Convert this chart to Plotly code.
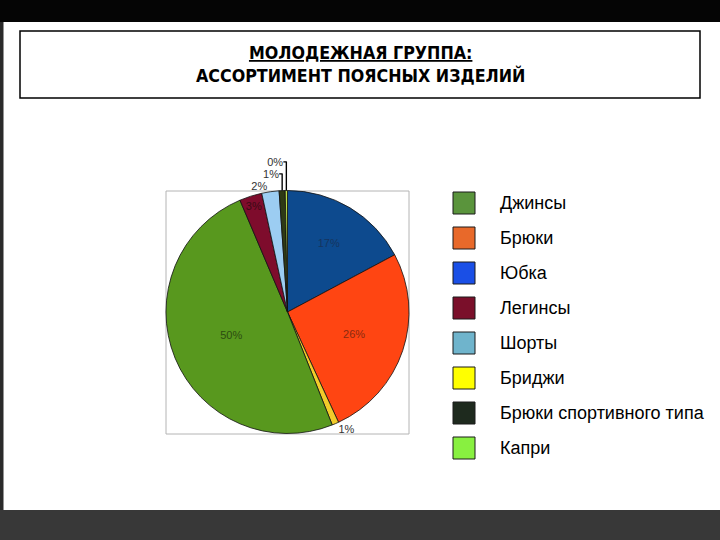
import plotly.graph_objects as go

# данные диаграммы (порядок секторов по часовой стрелке от 12 часов)
slice_labels = ['Юбка', 'Брюки', 'Бриджи', 'Джинсы', 'Легинсы', 'Шорты',
                'Брюки спортивного типа', 'Капри']
slice_values = [17.2, 25.9, 0.9, 49.6, 3.0, 2.3, 0.8, 0.3]
slice_colors = ['#0d4a8e', '#ff4512', '#f2cc2a', '#58981e', '#7e0c2c', '#9ccdf2',
                '#2e3a14', '#b8e04a']
text_colors = ['#15355f', '#8a2a10', '#333333', '#2c4c10', '#3a0a14', '#333333',
               '#333333', '#333333']
text_pos = ['inside', 'inside', 'outside', 'inside', 'inside', 'outside',
            'outside', 'outside']

# легенда (как на слайде)
legend_labels = ['Джинсы', 'Брюки', 'Юбка', 'Легинсы', 'Шорты', 'Бриджи',
                 'Брюки спортивного типа', 'Капри']
legend_colors = ['#5a943c', '#e8692a', '#1a4fe6', '#7a0f2a', '#6fb4cc', '#ffff00',
                 '#1e2a1e', '#88f040']

W, H = 720, 540


def px(x):
    return x / W


def py(y):
    return 1 - y / H


fig = go.Figure()

fig.add_trace(go.Pie(
    labels=slice_labels,
    values=slice_values,
    sort=False,
    direction='clockwise',
    rotation=0,
    marker=dict(colors=slice_colors, line=dict(color='#111111', width=0.8)),
    texttemplate='%{percent:.0%}',
    textposition=text_pos,
    insidetextorientation='horizontal',
    textfont=dict(family='Liberation Sans, Arial', size=11, color=text_colors),
    domain=dict(x=[px(166), px(409)], y=[py(434), py(190)]),
    showlegend=False,
    hoverinfo='label+percent',
))

shapes = [
    # тёмная рамка слайда
    dict(type='rect', xref='paper', yref='paper', x0=0, x1=1, y0=py(22), y1=1,
         fillcolor='#050505', line=dict(width=0), layer='above'),
    dict(type='rect', xref='paper', yref='paper', x0=0, x1=1, y0=0, y1=py(510),
         fillcolor='#383838', line=dict(width=0), layer='above'),
    dict(type='rect', xref='paper', yref='paper', x0=0, x1=px(3.5), y0=py(510), y1=py(22),
         fillcolor='#2a2a2a', line=dict(width=0), layer='above'),
    # рамка заголовка
    dict(type='rect', xref='paper', yref='paper', x0=px(20), x1=px(700), y0=py(98), y1=py(31),
         line=dict(color='#000000', width=1.5)),
    # рамка области построения
    dict(type='rect', xref='paper', yref='paper', x0=px(166), x1=px(409), y0=py(434), y1=py(191),
         line=dict(color='#b4b4b4', width=1), layer='below'),
]

annotations = [
    dict(text='<b><u>МОЛОДЕЖНАЯ ГРУППА:</u><br>АССОРТИМЕНТ ПОЯСНЫХ ИЗДЕЛИЙ</b>',
         x=0.5, y=py(65), xref='paper', yref='paper', showarrow=False,
         xanchor='center', yanchor='middle',
         font=dict(family='DejaVu Sans Condensed, Liberation Sans', size=17.7,
                   color='#000000'),
         align='center'),
]

for i, (name, col) in enumerate(zip(legend_labels, legend_colors)):
    yc = 203 + 35 * i
    shapes.append(dict(type='rect', xref='paper', yref='paper',
                       x0=px(453), x1=px(475), y0=py(yc + 11), y1=py(yc - 11),
                       fillcolor=col, line=dict(color='#1a1a1a', width=1)))
    annotations.append(dict(text=name, x=px(498), y=py(yc), xref='paper', yref='paper',
                            xanchor='left', yanchor='middle', showarrow=False,
                            font=dict(family='Liberation Sans, Arial', size=18, color='#000000')))

fig.update_layout(
    width=W, height=H,
    margin=dict(l=0, r=0, t=0, b=0),
    paper_bgcolor='#ffffff',
    plot_bgcolor='#ffffff',
    shapes=shapes,
    annotations=annotations,
    uniformtext=dict(minsize=11, mode='show'),
)

fig.write_html('out.html', config={'displayModeBar': False},
               post_script="document.body.style.margin='0';")
